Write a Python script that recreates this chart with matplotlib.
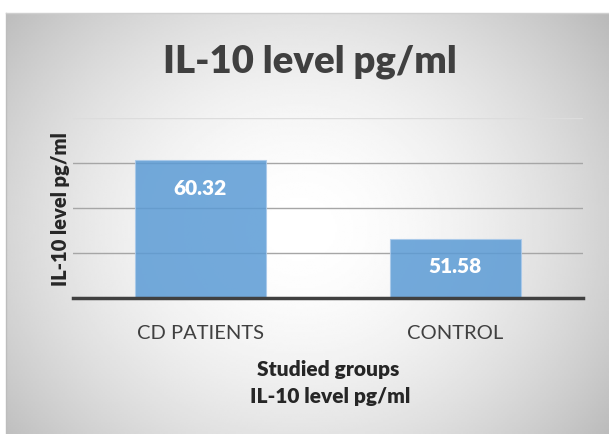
import numpy as np
import matplotlib.pyplot as plt

# donnees
groups = ['CD PATIENTS', 'CONTROL']
il10 = [60.32, 51.58]
y_ticks = [50, 55, 60, 65]

plt.rcParams['font.family'] = ['Lato', 'DejaVu Sans']

fig = plt.figure(figsize=(6.09, 4.35), dpi=100)
fig.patch.set_facecolor('white')

# fond gris en degrade radial
W, H = 609, 435
x0, y0 = 6, 14
bg = fig.add_axes([x0 / W, 0, 1 - x0 / W, 1 - y0 / H])
xx, yy = np.meshgrid(np.linspace(x0, W, 300), np.linspace(y0, H, 220))
r = np.sqrt(((xx - 300) / 340) ** 2 + ((yy - 230) / 300) ** 2)
shade = 1.0 - 0.21 * np.clip(r, 0, 1.2) ** 1.8
bg.imshow(shade, cmap='gray', vmin=0, vmax=1, aspect='auto',
          extent=[0, 1, 0, 1], interpolation='bilinear')
bg.axis('off')
fig.add_artist(plt.Line2D([x0 / W, x0 / W], [0, 1 - y0 / H], color='#bdbdbd', lw=1))
fig.add_artist(plt.Line2D([x0 / W, 1], [1 - y0 / H, 1 - y0 / H], color='#cfcfcf', lw=1))

ax = fig.add_axes([73 / W, 1 - 299 / H, 510 / W, 180 / H])
ax.patch.set_alpha(0)
x = np.arange(len(groups))
bars = ax.bar(x, il10, width=0.51, bottom=0, color='#5b9bd5', alpha=0.85,
              edgecolor='#a9c9ea', linewidth=0.8, zorder=3)
ax.set_xlim(-0.5, 1.5)
ax.set_ylim(45, 65)
ax.set_yticks(y_ticks)
ax.yaxis.grid(True, color='#a6a6a6', lw=1, zorder=0)
ax.get_ygridlines()[-1].set_color('#dcdcdc')
ax.tick_params(axis='y', length=0, labelleft=False)
ax.tick_params(axis='x', length=0, pad=19, labelsize=14.5, colors='#404040')
ax.set_xticks(x)
ax.set_xticklabels(groups)
for s in ['top', 'right', 'left']:
    ax.spines[s].set_visible(False)
ax.spines['bottom'].set_color('#404040')
ax.spines['bottom'].set_linewidth(2.5)
ax.spines['bottom'].set_zorder(4)

for b, v in zip(bars, il10):
    ax.annotate(f'{v:.2f}', (b.get_x() + b.get_width() / 2, v), xytext=(0, -19.5),
                textcoords='offset points', ha='center', va='center',
                color='white', fontsize=15, fontweight='heavy', zorder=5)

ax.set_ylabel('IL-10 level pg/ml', fontsize=14.5, fontweight='heavy', color='#262626', labelpad=2)

fig.text(310 / W, 1 - 62 / H, 'IL-10 level pg/ml', ha='center', va='center',
         fontsize=27.5, fontweight='heavy', color='#404040')
fig.text(328 / W, 1 - 370 / H, 'Studied groups', ha='center', va='center',
         fontsize=15, fontweight='heavy', color='#262626')
fig.text(330 / W, 1 - 397 / H, 'IL-10 level pg/ml', ha='center', va='center',
         fontsize=15, fontweight='heavy', color='#262626')

fig.savefig('out.png', dpi=100)
